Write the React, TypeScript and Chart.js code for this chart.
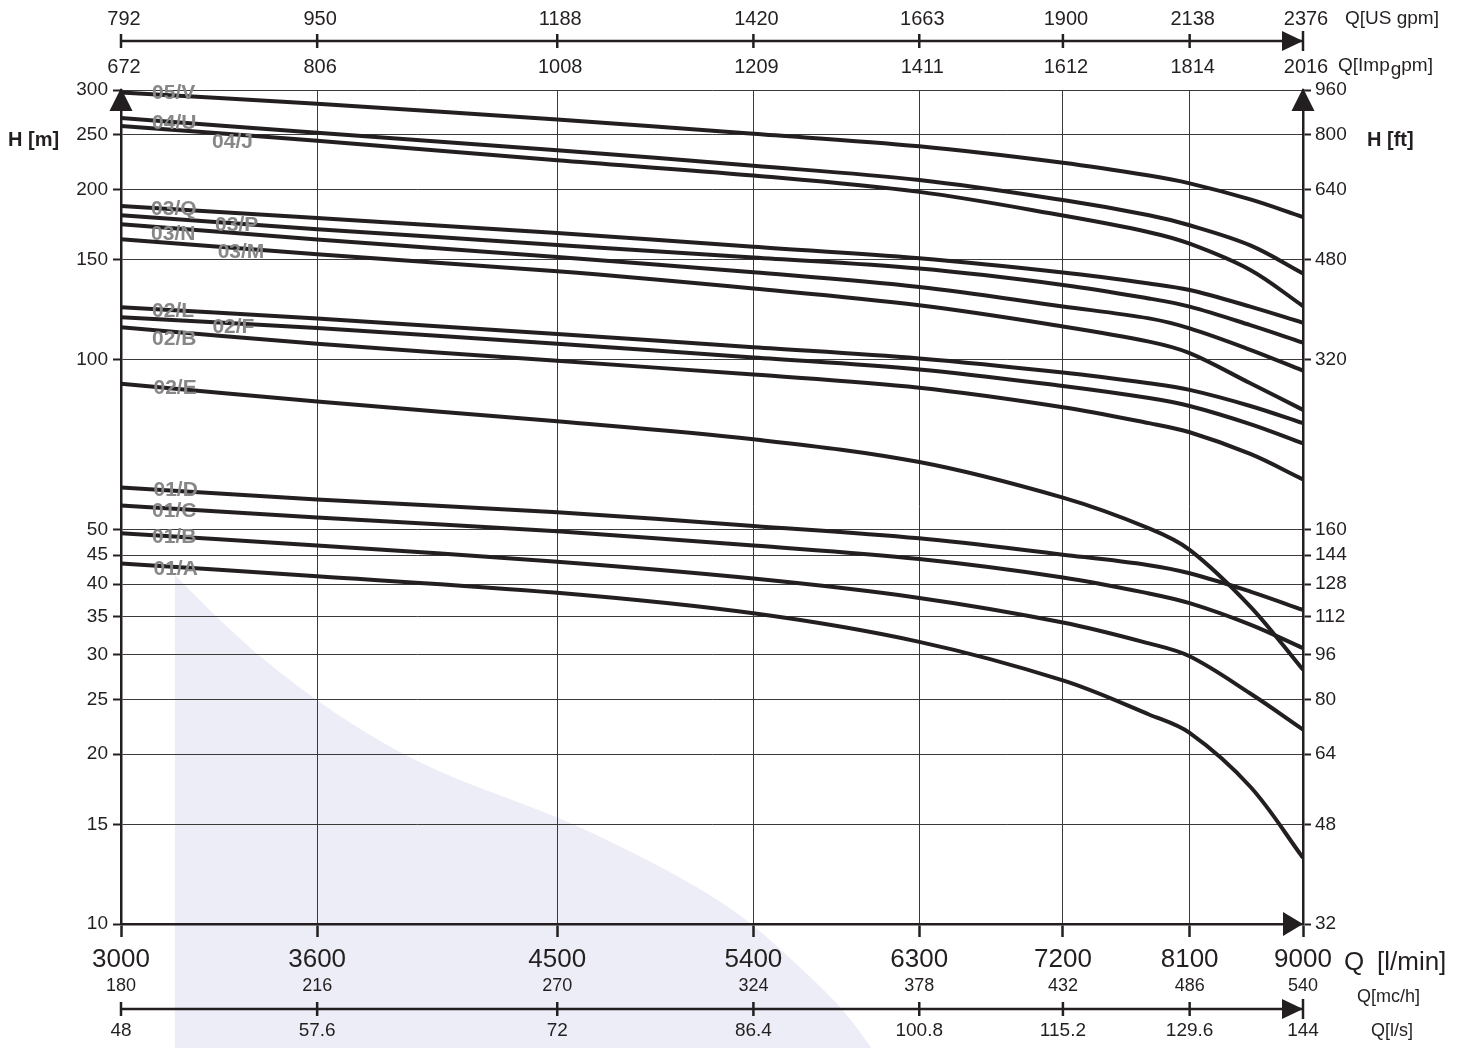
import React, { useEffect, useRef } from 'react';
import { Chart, registerables } from 'chart.js';

Chart.register(...registerables);

// ---- data ----
const FLOW = [3000, 3600, 4500, 5400, 6300, 7200, 7800, 8100, 8570, 9000];

const H_05V = [297, 283.5, 266, 251, 238.5, 223, 211.6, 205, 192, 178.7];
const H_04U = [267.6, 252, 234.6, 220.3, 207.8, 191.5, 180, 172.8, 159.2, 142];
const H_04J = [259, 244, 225.3, 211.7, 198, 179.8, 168, 160.3, 144, 124.3];
const H_03Q = [187, 178, 167.4, 158.3, 151, 142.5, 136.3, 132.7, 124, 116.1];
const H_03P = [180, 170.1, 159.5, 151.5, 144.8, 135.5, 128.2, 124, 115, 107.1];
const H_03N = [173.6, 163.1, 151.8, 142.7, 134.4, 124.1, 118.2, 113.5, 104, 95.5];
const H_03M = [163.3, 153.5, 143.2, 133.5, 124.7, 114.4, 107.5, 102.6, 90.7, 81.4];
const H_02L = [123.7, 118.1, 110.9, 105.1, 100.4, 94.8, 90.7, 88.3, 82.7, 77.1];
const H_02F = [118.7, 113.6, 106.6, 100.8, 96, 89.7, 85.4, 82.7, 76.8, 71];
const H_02B = [114, 106.6, 99.4, 94, 89.1, 82.3, 77.1, 74.3, 68, 61.3];
const H_02E = [90.5, 84.2, 77.7, 72.2, 65.8, 56.9, 50.2, 46, 36.5, 28.2];
const H_01D = [59.3, 56.5, 53.6, 50.7, 48.2, 45.1, 43.2, 41.8, 38.8, 36];
const H_01C = [55.1, 52.5, 49.6, 46.8, 44.3, 41.1, 38.5, 37, 33.9, 30.8];
const H_01B = [49.2, 46.8, 43.8, 40.9, 37.8, 34.2, 31.4, 29.8, 25.6, 22.1];
const H_01A = [43.5, 41.3, 38.6, 35.5, 31.6, 27, 23.5, 21.8, 17.5, 13.1];

const CURVES = [H_05V, H_04U, H_04J, H_03Q, H_03P, H_03N, H_03M, H_02L, H_02F, H_02B, H_02E, H_01D, H_01C, H_01B, H_01A];

// curve labels (text, flow, head where the label sits)
const LABEL_TEXT = ['05/V', '04/U', '04/J', '03/Q', '03/P', '03/N', '03/M', '02/L', '02/F', '02/B', '02/E', '01/D', '01/C', '01/B', '01/A'];
const LABEL_Q = [3088, 3088, 3265, 3085, 3274, 3085, 3282, 3088, 3266, 3088, 3092, 3092, 3088, 3088, 3092];
const LABEL_H = [296, 261.7, 242.2, 184.3, 172.5, 166.4, 154.6, 121.9, 113.9, 108.4, 89, 58.6, 53.9, 48.4, 42.5];

// ticks
const FLOW_TICKS = [3000, 3600, 4500, 5400, 6300, 7200, 8100, 9000];
const US_GPM = ['792', '950', '1188', '1420', '1663', '1900', '2138', '2376'];
const IMP_GPM = ['672', '806', '1008', '1209', '1411', '1612', '1814', '2016'];
const MCH = ['180', '216', '270', '324', '378', '432', '486', '540'];
const LPS = ['48', '57.6', '72', '86.4', '100.8', '115.2', '129.6', '144'];
const H_TICKS_M = [10, 15, 20, 25, 30, 35, 40, 45, 50, 100, 150, 200, 250, 300];
const H_TICKS_FT = [32, 48, 64, 80, 96, 112, 128, 144, 160, 320, 480, 640, 800, 960];

// shaded area boundary (flow, head)
const SHADE_Q = [3154, 3208, 3279, 3382, 3489, 3604, 3712, 3889, 4035, 4149, 4294, 4511, 4713, 5012, 5249, 5409, 5586, 5852, 6028, 6074];
const SHADE_H = [41.5, 38.5, 35.0, 30.8, 27.55, 24.8, 22.7, 20.1, 18.6, 17.7, 16.72, 15.4, 14.1, 12.3, 10.9, 9.89, 8.71, 7.19, 6.03, 5.69];

const DARK = '#231f20';
const GRID = '#3a3a3a';
const LABEL_GREY = '#878787';
const FONT = '"Liberation Sans", Arial, Helvetica, sans-serif';

function triangle(ctx: CanvasRenderingContext2D, pts: number[][]) {
  ctx.beginPath();
  ctx.moveTo(pts[0][0], pts[0][1]);
  ctx.lineTo(pts[1][0], pts[1][1]);
  ctx.lineTo(pts[2][0], pts[2][1]);
  ctx.closePath();
  ctx.fill();
}

function hline(ctx: CanvasRenderingContext2D, x1: number, x2: number, y: number, w: number) {
  ctx.lineWidth = w;
  ctx.beginPath();
  ctx.moveTo(x1, y);
  ctx.lineTo(x2, y);
  ctx.stroke();
}

function vline(ctx: CanvasRenderingContext2D, x: number, y1: number, y2: number, w: number) {
  ctx.lineWidth = w;
  ctx.beginPath();
  ctx.moveTo(x, y1);
  ctx.lineTo(x, y2);
  ctx.stroke();
}

const decorPlugin = {
  id: 'decor',
  beforeDraw(chart: any) {
    const xs = chart.scales.x;
    const ys = chart.scales.y;
    const ctx: CanvasRenderingContext2D = chart.ctx;
    const pts = SHADE_Q.map((q, i) => [xs.getPixelForValue(q), ys.getPixelForValue(SHADE_H[i])]);
    ctx.save();
    ctx.fillStyle = '#ecedf6';
    ctx.beginPath();
    ctx.moveTo(pts[0][0], pts[0][1]);
    for (let i = 1; i < pts.length - 1; i++) {
      const mx = (pts[i][0] + pts[i + 1][0]) / 2;
      const my = (pts[i][1] + pts[i + 1][1]) / 2;
      ctx.quadraticCurveTo(pts[i][0], pts[i][1], mx, my);
    }
    const last = pts[pts.length - 1];
    ctx.lineTo(last[0], last[1]);
    ctx.lineTo(pts[0][0], last[1]);
    ctx.closePath();
    ctx.fill();
    ctx.restore();
  },
  afterDatasetsDraw(chart: any) {
    const xs = chart.scales.x;
    const ys = chart.scales.y;
    const ctx: CanvasRenderingContext2D = chart.ctx;
    ctx.save();
    ctx.fillStyle = LABEL_GREY;
    ctx.font = `bold 21px ${FONT}`;
    ctx.textAlign = 'left';
    ctx.textBaseline = 'middle';
    LABEL_TEXT.forEach((t, i) => {
      ctx.fillText(t, xs.getPixelForValue(LABEL_Q[i]), ys.getPixelForValue(LABEL_H[i]));
    });
    ctx.restore();
  },
  afterDraw(chart: any) {
    const xs = chart.scales.x;
    const ctx: CanvasRenderingContext2D = chart.ctx;
    const area = chart.chartArea;
    const L = area.left;
    const R = area.right;
    const T = area.top;
    const B = area.bottom;
    ctx.save();
    ctx.fillStyle = DARK;
    ctx.strokeStyle = DARK;

    // vertical axis arrows
    triangle(ctx, [[L - 11.5, T + 21], [L, T - 2], [L + 11.5, T + 21]]);
    triangle(ctx, [[R - 11.5, T + 21], [R, T - 2], [R + 11.5, T + 21]]);
    // bottom axis arrow
    triangle(ctx, [[R - 20, B - 12], [R, B], [R - 20, B + 12]]);

    // top secondary axis (US gpm / Imp gpm)
    const yTop = 41;
    hline(ctx, L - 1, R, yTop, 2.5);
    triangle(ctx, [[R - 21, yTop - 10], [R, yTop], [R - 21, yTop + 10]]);
    ctx.textAlign = 'center';
    ctx.textBaseline = 'middle';
    ctx.font = `20px ${FONT}`;
    FLOW_TICKS.forEach((q, i) => {
      const x = xs.getPixelForValue(q);
      const last = i === FLOW_TICKS.length - 1;
      vline(ctx, x, last ? yTop - 10 : yTop - 7, last ? yTop + 10 : yTop + 7, 2.5);
      ctx.fillText(US_GPM[i], x + 3, 19);
      ctx.fillText(IMP_GPM[i], x + 3, 67);
    });

    // bottom secondary axes (mc/h labels, l/s axis)
    const yLps = 1009;
    hline(ctx, L - 1, R, yLps, 2.5);
    triangle(ctx, [[R - 21, yLps - 10], [R, yLps], [R - 21, yLps + 10]]);
    FLOW_TICKS.forEach((q, i) => {
      const x = xs.getPixelForValue(q);
      const last = i === FLOW_TICKS.length - 1;
      vline(ctx, x, last ? yLps - 10 : yLps - 7, last ? yLps + 10 : yLps + 7, 2.5);
      ctx.font = `18px ${FONT}`;
      ctx.fillText(MCH[i], x, 986);
      ctx.font = `19px ${FONT}`;
      ctx.fillText(LPS[i], x, 1031);
    });

    // unit labels
    ctx.textAlign = 'left';
    ctx.font = `19px ${FONT}`;
    ctx.fillText('Q[US gpm]', 1345, 19);
    // Q[Imp gpm] with lowered g
    let x = 1338;
    ctx.fillText('Q[Imp', x, 66);
    x += ctx.measureText('Q[Imp').width + 1;
    ctx.fillText('g', x, 70);
    x += ctx.measureText('g').width;
    ctx.fillText('pm]', x, 66);

    ctx.font = `26px ${FONT}`;
    ctx.fillText('Q', 1344, 963);
    ctx.fillText('[l/min]', 1377, 963);
    ctx.font = `18px ${FONT}`;
    ctx.fillText('Q[mc/h]', 1357, 997);
    ctx.fillText('Q[l/s]', 1371, 1031);

    ctx.font = `bold 20px ${FONT}`;
    ctx.fillText('H [m]', 8, 140);
    ctx.fillText('H [ft]', 1367, 140);

    ctx.restore();
  },
};

export default function App() {
  const ref = useRef<HTMLCanvasElement>(null);

  useEffect(() => {
    const canvas = ref.current;
    if (!canvas) return;
    const datasets = CURVES.map((vals, k) => ({
      label: LABEL_TEXT[k],
      data: FLOW.map((q, i) => ({ x: q, y: vals[i] })),
      borderColor: DARK,
      backgroundColor: DARK,
      borderWidth: 4,
      pointRadius: 0,
      fill: false,
      tension: 0.35,
      xAxisID: 'x',
      yAxisID: 'y',
    }));

    const chart = new Chart(canvas, {
      type: 'line',
      data: { datasets },
      options: {
        responsive: false,
        animation: false,
        devicePixelRatio: 1,
        layout: { padding: { top: 90, left: 0, right: 0, bottom: 0 } },
        plugins: { legend: { display: false }, tooltip: { enabled: false } },
        scales: {
          x: {
            type: 'logarithmic',
            position: 'bottom',
            min: 3000,
            max: 9000,
            afterBuildTicks: (s: any) => {
              s.ticks = FLOW_TICKS.map((v) => ({ value: v }));
            },
            afterFit: (s: any) => {
              s.height = 124;
            },
            ticks: {
              autoSkip: false,
              maxRotation: 0,
              minRotation: 0,
              padding: 7,
              color: DARK,
              font: { family: FONT, size: 26 },
              callback: (v: any) => String(v),
            },
            grid: { color: GRID, lineWidth: 1, tickLength: 13, tickColor: DARK, tickWidth: 2.5, drawTicks: true },
            border: { display: true, color: DARK, width: 2.5 },
          },
          y: {
            type: 'logarithmic',
            position: 'left',
            min: 10,
            max: 300,
            afterBuildTicks: (s: any) => {
              s.ticks = H_TICKS_M.map((v) => ({ value: v }));
            },
            afterFit: (s: any) => {
              s.width = 121;
            },
            ticks: {
              autoSkip: false,
              padding: 5,
              color: DARK,
              font: { family: FONT, size: 19 },
              callback: (v: any) => String(v),
            },
            grid: { color: GRID, lineWidth: 1, tickLength: 8, tickColor: DARK, tickWidth: 2 },
            border: { display: true, color: DARK, width: 2.5 },
          },
          y2: {
            type: 'logarithmic',
            position: 'right',
            min: 32,
            max: 960,
            afterBuildTicks: (s: any) => {
              s.ticks = H_TICKS_FT.map((v) => ({ value: v }));
            },
            afterFit: (s: any) => {
              s.width = 161;
            },
            ticks: {
              autoSkip: false,
              padding: 4,
              color: DARK,
              font: { family: FONT, size: 19 },
              callback: (v: any) => String(v),
            },
            grid: { drawOnChartArea: false, tickLength: 8, tickColor: DARK, tickWidth: 2 },
            border: { display: true, color: DARK, width: 2.5 },
          },
        },
      },
      plugins: [decorPlugin],
    } as any);

    return () => chart.destroy();
  }, []);

  return (
    <div style={{ position: 'absolute', left: 0, top: 0, width: 1464, height: 1048, background: '#ffffff' }}>
      <canvas ref={ref} width={1464} height={1048} style={{ display: 'block', width: 1464, height: 1048 }} />
    </div>
  );
}
